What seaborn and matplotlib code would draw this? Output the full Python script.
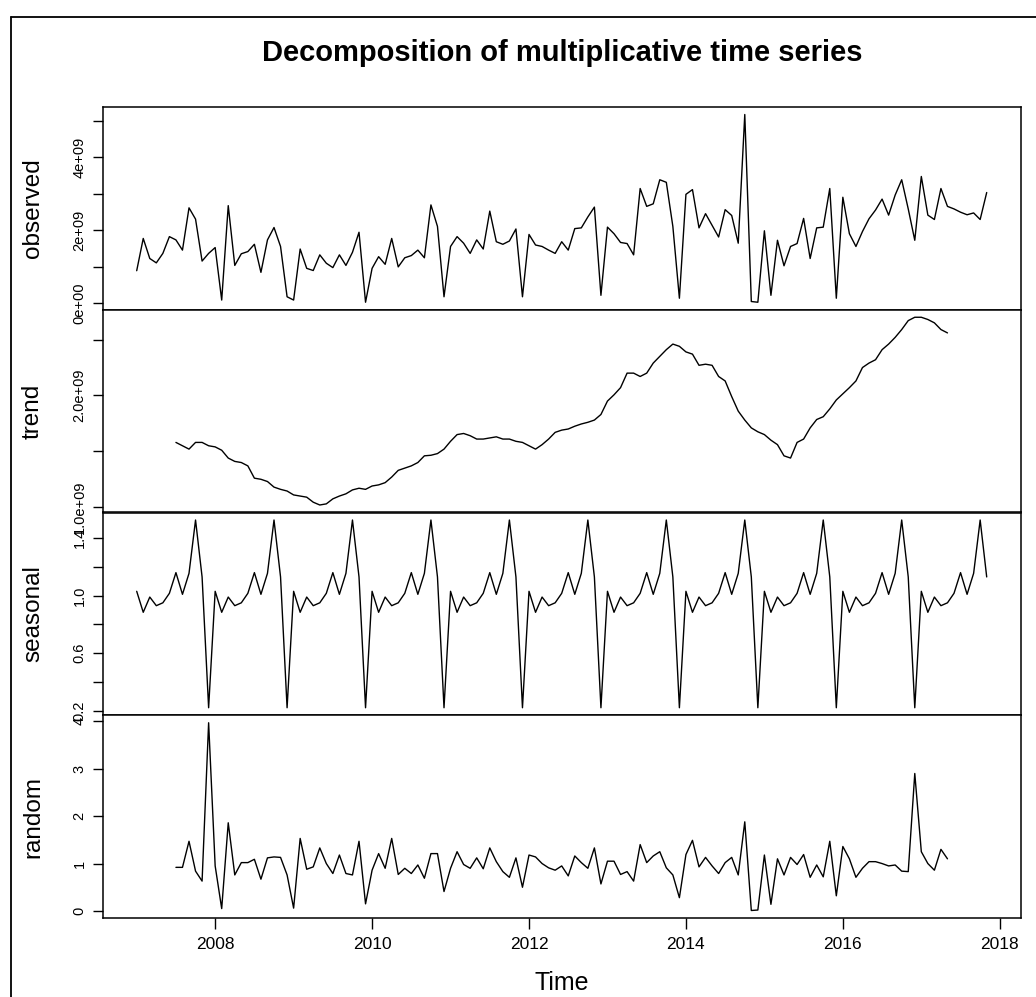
import numpy as np
import pandas as pd
import matplotlib
matplotlib.use("Agg")
import matplotlib.pyplot as plt
from matplotlib.lines import Line2D
import seaborn as sns

# monthly series, Jan 2007 .. Nov 2017 (values in 1e9 for observed / trend)
start_year = 2007
observed = [
    0.885, 1.77, 1.22, 1.10, 1.36, 1.82, 1.73, 1.45, 2.61, 2.30, 1.15, 1.36,
    1.52, 0.08, 2.67, 1.03, 1.35, 1.41, 1.61, 0.84, 1.73, 2.07, 1.55, 0.17,
    0.08, 1.48, 0.95, 0.89, 1.32, 1.09, 0.97, 1.32, 1.03, 1.39, 1.94, 0.02,
    0.95, 1.27, 1.06, 1.77, 0.99, 1.24, 1.30, 1.45, 1.24, 2.69, 2.10, 0.17,
    1.55, 1.82, 1.64, 1.36, 1.73, 1.48, 2.52, 1.68, 1.61, 1.70, 2.03, 0.17,
    1.88, 1.59, 1.55, 1.45, 1.36, 1.68, 1.45, 2.04, 2.06, 2.36, 2.63, 0.21,
    2.08, 1.90, 1.66, 1.63, 1.32, 3.14, 2.65, 2.72, 3.38, 3.31, 2.10, 0.13,
    2.98, 3.11, 2.06, 2.45, 2.13, 1.81, 2.56, 2.40, 1.64, 5.17, 0.04, 0.02,
    1.98, 0.21, 1.72, 1.02, 1.55, 1.63, 2.32, 1.22, 2.06, 2.08, 3.14, 0.13,
    2.90, 1.90, 1.55, 1.96, 2.31, 2.55, 2.85, 2.41, 2.96, 3.38, 2.58, 1.72,
    3.47, 2.41, 2.29, 3.14, 2.65, 2.58, 2.49, 2.42, 2.47, 2.29, 3.03,
]

# trend / random are defined from Jul 2007 (month 6) to May 2017 (month 124)
trend_offset = 6
trend = [
    1.58, 1.55, 1.52, 1.58, 1.58, 1.55, 1.54, 1.51, 1.44, 1.41, 1.40, 1.37,
    1.26, 1.25, 1.23, 1.18, 1.16, 1.145, 1.11, 1.10, 1.09, 1.045, 1.02, 1.03,
    1.075, 1.10, 1.12, 1.155, 1.17, 1.16, 1.19, 1.20, 1.22, 1.27, 1.33, 1.35,
    1.37, 1.40, 1.46, 1.465, 1.48, 1.52, 1.59, 1.65, 1.66, 1.64, 1.61, 1.61,
    1.62, 1.63, 1.61, 1.61, 1.59, 1.58, 1.55, 1.52, 1.56, 1.61, 1.67, 1.69,
    1.70, 1.725, 1.745, 1.76, 1.78, 1.83, 1.95, 2.006, 2.07, 2.20, 2.20, 2.17,
    2.20, 2.29, 2.35, 2.41, 2.46, 2.44, 2.39, 2.37, 2.27, 2.28, 2.27, 2.17,
    2.13, 1.99, 1.86, 1.78, 1.71, 1.675, 1.65, 1.60, 1.56, 1.46, 1.44, 1.58,
    1.61, 1.71, 1.785, 1.81, 1.88, 1.96, 2.015, 2.07, 2.13, 2.25, 2.29, 2.32,
    2.41, 2.46, 2.52, 2.59, 2.67, 2.70, 2.70, 2.68, 2.65, 2.59, 2.56,
]

# one seasonal factor per calendar month (Jan..Dec)
seasonal_factors = [1.03, 0.884, 0.99, 0.93, 0.95, 1.016, 1.16, 1.009, 1.155, 1.526, 1.13, 0.22]

random_part = [
    0.92, 0.92, 1.47, 0.84, 0.63, 3.97, 0.95, 0.05, 1.86, 0.76, 1.02, 1.02,
    1.09, 0.67, 1.12, 1.14, 1.13, 0.76, 0.06, 1.53, 0.88, 0.93, 1.33, 1.00,
    0.79, 1.18, 0.79, 0.76, 1.47, 0.15, 0.86, 1.21, 0.90, 1.53, 0.77, 0.90,
    0.79, 0.97, 0.69, 1.21, 1.21, 0.41, 0.90, 1.25, 0.98, 0.90, 1.12, 0.89,
    1.33, 1.04, 0.83, 0.71, 1.12, 0.50, 1.18, 1.14, 1.00, 0.91, 0.86, 0.95,
    0.74, 1.16, 1.02, 0.90, 1.33, 0.57, 1.05, 1.05, 0.77, 0.83, 0.63, 1.40,
    1.02, 1.16, 1.25, 0.91, 0.76, 0.28, 1.19, 1.49, 0.93, 1.13, 0.95, 0.79,
    1.02, 1.13, 0.76, 1.88, 0.01, 0.02, 1.18, 0.14, 1.10, 0.76, 1.13, 0.98,
    1.19, 0.71, 0.97, 0.72, 1.47, 0.32, 1.36, 1.10, 0.71, 0.90, 1.04, 1.04,
    1.00, 0.95, 0.97, 0.84, 0.83, 2.90, 1.25, 1.00, 0.86, 1.30, 1.10,
]

# tick marks / labels per panel (R leaves some ticks unlabeled)
obs_ticks = [0, 1, 2, 3, 4, 5]
obs_labels = ["0e+00", "", "2e+09", "", "4e+09", ""]
trend_ticks = [1.0, 1.5, 2.0, 2.5]
trend_labels = ["1.0e+09", "", "2.0e+09", ""]
seas_ticks = [0.2, 0.4, 0.6, 0.8, 1.0, 1.2, 1.4]
seas_labels = ["0.2", "", "0.6", "", "1.0", "", "1.4"]
rand_ticks = [0, 1, 2, 3, 4]
rand_labels = ["0", "1", "2", "3", "4"]
x_ticks = [2008, 2010, 2012, 2014, 2016, 2018]

n = len(observed)
time = start_year + np.arange(n) / 12.0
t_sub = time[trend_offset:trend_offset + len(trend)]
seasonal = np.resize(seasonal_factors, n)

df_obs = pd.DataFrame({"time": time, "value": observed})
df_trend = pd.DataFrame({"time": t_sub, "value": trend})
df_seas = pd.DataFrame({"time": time, "value": seasonal})
df_rand = pd.DataFrame({"time": t_sub, "value": random_part})

sns.set_style("white")
plt.rcParams["font.family"] = ["Liberation Sans", "DejaVu Sans"]
plt.rcParams["text.color"] = "black"
plt.rcParams["axes.labelcolor"] = "black"
plt.rcParams["xtick.color"] = "black"
plt.rcParams["ytick.color"] = "black"

W, H = 1036, 997
fig, axes = plt.subplots(4, 1, figsize=(W / 100, H / 100), dpi=100, sharex=True)
fig.subplots_adjust(left=102.7 / W, right=1020.7 / W, top=1 - 107 / H,
                    bottom=1 - 918 / H, hspace=0)

panels = [
    ("observed", df_obs, obs_ticks, obs_labels),
    ("trend", df_trend, trend_ticks, trend_labels),
    ("seasonal", df_seas, seas_ticks, seas_labels),
    ("random", df_rand, rand_ticks, rand_labels),
]

xlo, xhi = time.min(), time.max()
xpad = 0.04 * (xhi - xlo)

for ax, (name, d, ticks, labels) in zip(axes, panels):
    sns.lineplot(data=d, x="time", y="value", ax=ax, color="black", linewidth=1.0)
    lo, hi = d["value"].min(), d["value"].max()
    pad = 0.04 * (hi - lo)
    ax.set_ylim(lo - pad, hi + pad)
    ax.set_xlim(xlo - xpad, xhi + xpad)
    ax.set_yticks(ticks)
    ax.set_yticklabels(labels)
    ax.tick_params(axis="y", left=True, length=7, width=1, pad=4.5,
                   labelsize=10.5, labelrotation=90, direction="out",
                   color="black", labelcolor="black")
    for lab in ax.get_yticklabels():
        lab.set_va("center")
    ax.set_xlabel("")
    ax.set_ylabel("")
    for sp in ax.spines.values():
        sp.set_linewidth(1.1)
        sp.set_color("black")
    pos = ax.get_position()
    fig.text(33 / W, (pos.y0 + pos.y1) / 2, name, rotation=90, ha="center",
             va="center", fontsize=17.5, color="black")

for ax in axes[:-1]:
    ax.tick_params(axis="x", bottom=False, labelbottom=False)

axes[-1].set_xticks(x_ticks)
axes[-1].set_xticklabels([str(v) for v in x_ticks])
axes[-1].tick_params(axis="x", bottom=True, length=8, width=1, pad=6,
                     labelsize=12.5, direction="out", color="black",
                     labelcolor="black")

fig.text(562 / W, 1 - 983 / H, "Time", ha="center", va="center", fontsize=18,
         color="black")
fig.text(562 / W, 1 - 53 / H, "Decomposition of multiplicative time series",
         ha="center", va="center", fontsize=21, fontweight="bold", color="black")

# outer frame (left and top edges only, as in the screenshot)
fig.add_artist(Line2D([11 / W, 11 / W], [0, 1 - 17 / H], transform=fig.transFigure,
                      color="black", linewidth=1.3))
fig.add_artist(Line2D([11 / W, 1], [1 - 17 / H, 1 - 17 / H], transform=fig.transFigure,
                      color="black", linewidth=1.3))

fig.savefig("out.png", dpi=100)
